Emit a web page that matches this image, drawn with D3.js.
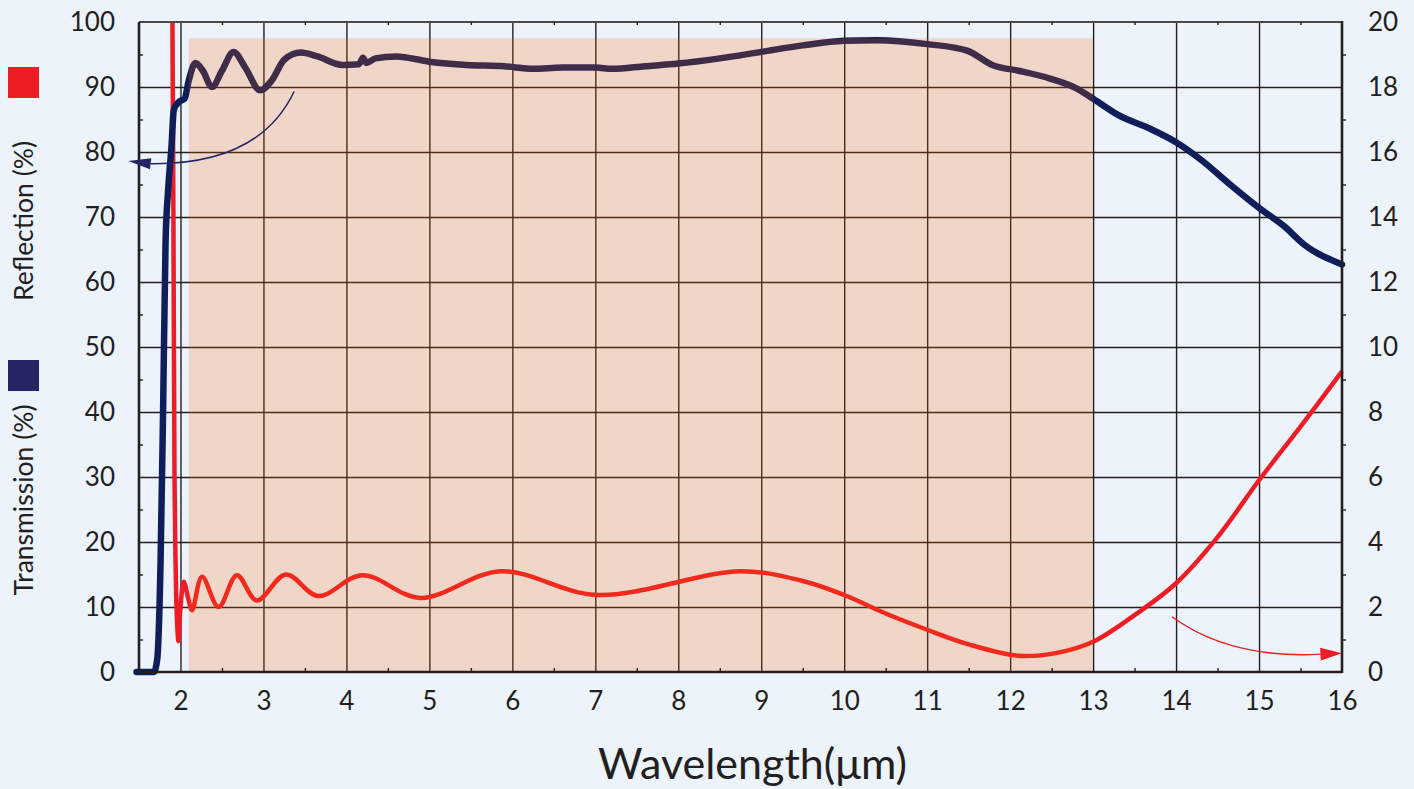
<!DOCTYPE html>
<html>
<head>
<meta charset="utf-8">
<script src="https://cdn.jsdelivr.net/npm/d3@7"></script>
<style>
  html, body { margin: 0; padding: 0; background: #ecf3fa; }
  svg { display: block; }
  svg text { font-family: Lato, "DejaVu Sans", sans-serif; }
</style>
</head>
<body>
<script>
// transmission (left axis, %)
var wlT = [1.47, 1.68, 1.72, 1.76, 1.79, 1.82, 1.85, 1.89, 1.92, 1.98, 2.05, 2.10, 2.18, 2.27, 2.38, 2.50, 2.64, 2.78, 2.96, 3.10, 3.25, 3.45, 3.65, 3.95, 4.15, 4.20, 4.24, 4.35, 4.60, 5.00, 5.45, 5.90, 6.25, 6.60, 7.00, 7.20, 7.60, 8.00, 8.50, 9.00, 9.50, 10.0, 10.4, 11.0, 11.48, 11.8, 12.1, 12.48, 12.8, 13.0, 13.3, 13.7, 14.0, 14.3, 14.65, 15.0, 15.3, 15.55, 16.0];
var transmission = [0, 0, 2, 17, 40, 66, 74, 80.5, 86.5, 87.7, 88.2, 91, 93.7, 92.5, 90, 92.5, 95.4, 93, 89.5, 91, 94.2, 95.3, 94.7, 93.4, 93.5, 94.5, 93.7, 94.4, 94.7, 93.9, 93.4, 93.2, 92.8, 93.0, 93.0, 92.8, 93.2, 93.6, 94.4, 95.4, 96.4, 97.1, 97.2, 96.6, 95.6, 93.3, 92.5, 91.3, 89.8, 88.2, 85.7, 83.5, 81.5, 78.8, 75, 71.4, 68.6, 65.7, 62.7];

// reflection (right axis, %)
var wlR = [1.903, 1.915, 1.928, 1.94, 1.955, 1.975, 1.995, 2.04, 2.09, 2.14, 2.26, 2.46, 2.68, 2.92, 3.27, 3.66, 4.19, 4.89, 5.86, 7.02, 8.75, 9.5, 10.0, 10.5, 11.0, 11.5, 12.1, 12.55, 13.0, 13.5, 14.0, 14.5, 15.0, 15.5, 16.0];
var reflection = [20, 14, 6, 3.5, 1.8, 0.95, 1.8, 2.78, 2.3, 1.9, 2.93, 2.0, 2.98, 2.2, 3.0, 2.34, 2.98, 2.28, 3.1, 2.37, 3.1, 2.8, 2.37, 1.8, 1.3, 0.85, 0.5, 0.58, 0.93, 1.75, 2.73, 4.15, 5.9, 7.55, 9.25];

var xTicks = [2, 3, 4, 5, 6, 7, 8, 9, 10, 11, 12, 13, 14, 15, 16];
var xMinor = [2.5, 3.5, 4.5, 5.5, 6.5, 7.5, 8.5, 9.5, 10.5, 11.5, 12.5, 13.5, 14.5, 15.5];
var yLeftTicks = [0, 10, 20, 30, 40, 50, 60, 70, 80, 90, 100];
var yLeftMinor = [5, 15, 25, 35, 45, 55, 65, 75, 85, 95];
var yRightTicks = [0, 2, 4, 6, 8, 10, 12, 14, 16, 18, 20];
var yRightMinor = [1, 3, 5, 7, 9, 11, 13, 15, 17, 19];

// shaded band and the two pointer arrows (start, control, head base, tip), in data units
var band = { x0: 2.1, x1: 13, top: 97.5 };
var arrowT = [[3.37, 89.3], [2.95, 78], [1.64, 78.2], [1.37, 78.6]];
var arrowR = [[13.95, 1.7], [14.65, 0.4], [15.74, 0.55], [16.0, 0.58]];

var width = 1414, height = 789;
var plotL = 139, plotR = 1342, plotT = 22, plotB = 672;

var svg = d3.select('body').append('svg').attr('width', width).attr('height', height);

var x = d3.scaleLinear().domain([1.5, 16]).range([plotL, plotR]);
var yL = d3.scaleLinear().domain([0, 100]).range([plotB, plotT]);
var yR = d3.scaleLinear().domain([0, 20]).range([plotB, plotT]);

var ink = '#231f20';

// grid
svg.append('g')
   .attr('transform', 'translate(0,' + plotB + ')')
   .call(d3.axisBottom(x).tickValues(xTicks.slice(0, -1)).tickSize(-(plotB - plotT)).tickFormat(''))
   .call(function (g) { g.select('.domain').remove(); })
   .selectAll('line').attr('stroke', ink).attr('stroke-width', 1.4);

svg.append('g')
   .attr('transform', 'translate(' + plotL + ',0)')
   .call(d3.axisLeft(yL).tickValues(yLeftTicks.slice(1, -1)).tickSize(-(plotR - plotL)).tickFormat(''))
   .call(function (g) { g.select('.domain').remove(); })
   .selectAll('line').attr('stroke', ink).attr('stroke-width', 1.4);

// curves
var lineT = d3.line()
   .x(function (d, i) { return x(wlT[i]); })
   .y(function (d) { return yL(d); })
   .curve(d3.curveMonotoneX);

var lineR = d3.line()
   .x(function (d, i) { return x(wlR[i]); })
   .y(function (d) { return yR(d); })
   .curve(d3.curveCatmullRom.alpha(0.5));

svg.append('path')
   .datum(reflection)
   .attr('d', lineR)
   .attr('fill', 'none')
   .attr('stroke', '#ee1c25')
   .attr('stroke-width', 4.5)
   .attr('stroke-linejoin', 'round');

svg.append('path')
   .datum(transmission)
   .attr('d', lineT)
   .attr('fill', 'none')
   .attr('stroke', '#0f1e5a')
   .attr('stroke-width', 6.5)
   .attr('stroke-linejoin', 'round')
   .attr('stroke-linecap', 'round');

// translucent band over the curves
svg.append('rect')
   .attr('x', x(band.x0))
   .attr('y', yL(band.top))
   .attr('width', x(band.x1) - x(band.x0))
   .attr('height', yL(0) - yL(band.top))
   .attr('fill', 'rgb(255,100,0)')
   .attr('fill-opacity', 0.2);

// frame
svg.append('line').attr('x1', plotL).attr('x2', plotR).attr('y1', plotT).attr('y2', plotT)
   .attr('stroke', '#4a4a4a').attr('stroke-width', 2);
svg.append('line').attr('x1', plotL).attr('x2', plotR).attr('y1', plotB).attr('y2', plotB)
   .attr('stroke', ink).attr('stroke-width', 2.6);
svg.append('line').attr('x1', plotL).attr('x2', plotL).attr('y1', plotT).attr('y2', plotB)
   .attr('stroke', ink).attr('stroke-width', 2.6);
svg.append('line').attr('x1', plotR).attr('x2', plotR).attr('y1', plotT - 1).attr('y2', plotB + 1)
   .attr('stroke', ink).attr('stroke-width', 2.6);

// minor ticks
function minor(g) {
  g.select('.domain').remove();
  g.selectAll('line').attr('stroke', ink).attr('stroke-width', 1.4);
}
svg.append('g').attr('transform', 'translate(0,' + plotB + ')')
   .call(d3.axisBottom(x).tickValues(xMinor).tickSize(-4).tickFormat('')).call(minor);
svg.append('g').attr('transform', 'translate(0,' + plotT + ')')
   .call(d3.axisTop(x).tickValues(xMinor).tickSize(-3).tickFormat('')).call(minor);
svg.append('g').attr('transform', 'translate(' + plotL + ',0)')
   .call(d3.axisLeft(yL).tickValues(yLeftMinor).tickSize(-4).tickFormat('')).call(minor);
svg.append('g').attr('transform', 'translate(' + plotR + ',0)')
   .call(d3.axisRight(yR).tickValues(yRightMinor).tickSize(4).tickFormat('')).call(minor);

// tick labels
function labels(g) {
  g.select('.domain').remove();
  g.selectAll('line').remove();
  g.attr('font-family', null).attr('font-size', null);
  g.selectAll('text').attr('fill', ink).style('font-size', '26px');
}
svg.append('g').attr('transform', 'translate(0,' + plotB + ')')
   .call(d3.axisBottom(x).tickValues(xTicks).tickSize(0).tickPadding(20).tickFormat(d3.format('d'))).call(labels);
svg.append('g').attr('transform', 'translate(' + plotL + ',0)')
   .call(d3.axisLeft(yL).tickValues(yLeftTicks).tickSize(0).tickPadding(24).tickFormat(d3.format('d'))).call(labels);
svg.append('g').attr('transform', 'translate(' + plotR + ',0)')
   .call(d3.axisRight(yR).tickValues(yRightTicks).tickSize(0).tickPadding(26).tickFormat(d3.format('d'))).call(labels);

// axis titles
svg.append('text')
   .attr('x', (plotL + plotR) / 2 + 12)
   .attr('y', 779)
   .attr('text-anchor', 'middle')
   .attr('fill', ink)
   .style('font-size', '43px')
   .text('Wavelength(μm)');

svg.append('text')
   .attr('transform', 'translate(23,221) rotate(-90)')
   .attr('text-anchor', 'middle')
   .attr('dominant-baseline', 'central')
   .attr('fill', ink)
   .style('font-size', '26.5px')
   .text('Reflection (%)');

svg.append('text')
   .attr('transform', 'translate(23,500) rotate(-90)')
   .attr('text-anchor', 'middle')
   .attr('dominant-baseline', 'central')
   .attr('fill', ink)
   .style('font-size', '26.5px')
   .text('Transmission (%)');

// legend squares
svg.append('rect').attr('x', 8).attr('y', 67).attr('width', 31).attr('height', 31).attr('fill', '#ee1c25');
svg.append('rect').attr('x', 8).attr('y', 360).attr('width', 31).attr('height', 31).attr('fill', '#252566');

// pointer arrows
function arrow(pts, ys, color, head) {
  var p = pts.map(function (d) { return [x(d[0]), ys(d[1])]; });
  var tip = p[3], base = p[2];
  svg.append('path')
     .attr('d', 'M' + p[0] + 'Q' + p[1] + ' ' + base)
     .attr('fill', 'none')
     .attr('stroke', color)
     .attr('stroke-width', 1.5);
  var dx = tip[0] - base[0], dy = tip[1] - base[1];
  var len = Math.sqrt(dx * dx + dy * dy), nx = -dy / len * head, ny = dx / len * head;
  svg.append('path')
     .attr('d', 'M' + tip + 'L' + [base[0] + nx, base[1] + ny] + 'L' + [base[0] - nx, base[1] - ny] + 'Z')
     .attr('fill', color);
}
arrow(arrowT, yL, '#252566', 5.5);
arrow(arrowR, yR, '#ee1c25', 6.5);
</script>
</body>
</html>
